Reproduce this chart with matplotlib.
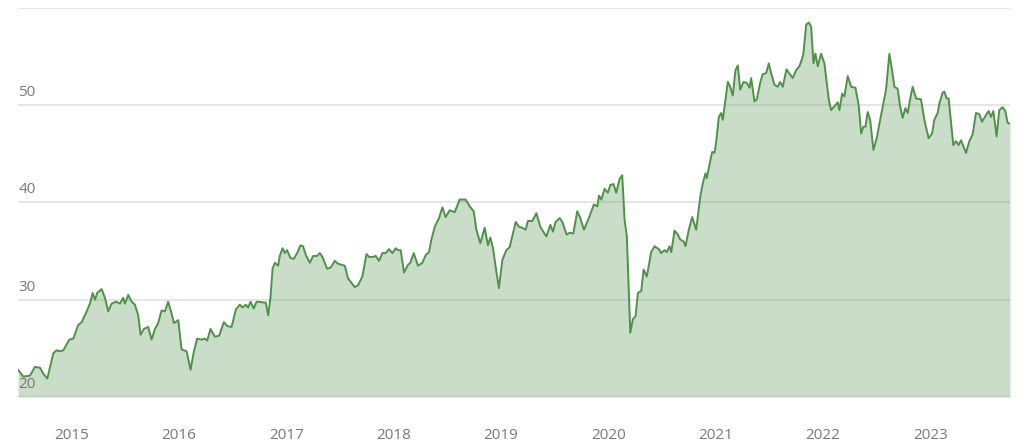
import matplotlib
matplotlib.use("Agg")
import matplotlib.pyplot as plt

# dates as decimal years, prices
years = [
    2014.500, 2014.549, 2014.612, 2014.658, 2014.705, 2014.736, 2014.773, 2014.829, 2014.860, 2014.891,
    2014.922, 2014.978, 2015.015, 2015.061, 2015.093, 2015.140, 2015.170, 2015.196, 2015.217, 2015.238,
    2015.279, 2015.310, 2015.341, 2015.372, 2015.412, 2015.450, 2015.480, 2015.496, 2015.527, 2015.559,
    2015.589, 2015.620, 2015.642, 2015.673, 2015.713, 2015.745, 2015.776, 2015.806, 2015.838, 2015.869,
    2015.899, 2015.931, 2015.952, 2015.993, 2016.024, 2016.071, 2016.108, 2016.139, 2016.169, 2016.210,
    2016.241, 2016.263, 2016.294, 2016.334, 2016.374, 2016.418, 2016.449, 2016.490, 2016.530, 2016.567,
    2016.592, 2016.623, 2016.644, 2016.667, 2016.697, 2016.723, 2016.809, 2016.831, 2016.853, 2016.872,
    2016.893, 2016.924, 2016.939, 2016.965, 2016.986, 2017.007, 2017.039, 2017.070, 2017.101, 2017.132,
    2017.156, 2017.182, 2017.219, 2017.250, 2017.287, 2017.312, 2017.337, 2017.380, 2017.412, 2017.452,
    2017.482, 2017.545, 2017.575, 2017.638, 2017.669, 2017.709, 2017.747, 2017.771, 2017.803, 2017.833,
    2017.864, 2017.896, 2017.926, 2017.957, 2017.989, 2018.020, 2018.041, 2018.066, 2018.097, 2018.134,
    2018.156, 2018.187, 2018.227, 2018.268, 2018.299, 2018.330, 2018.352, 2018.383, 2018.423, 2018.454,
    2018.485, 2018.522, 2018.569, 2018.615, 2018.671, 2018.709, 2018.746, 2018.771, 2018.808, 2018.848,
    2018.879, 2018.901, 2018.926, 2018.957, 2018.981, 2019.013, 2019.050, 2019.081, 2019.137, 2019.168,
    2019.199, 2019.230, 2019.251, 2019.292, 2019.330, 2019.367, 2019.423, 2019.460, 2019.484, 2019.509,
    2019.547, 2019.572, 2019.612, 2019.642, 2019.674, 2019.711, 2019.736, 2019.773, 2019.819, 2019.866,
    2019.898, 2019.913, 2019.935, 2019.966, 2019.996, 2020.019, 2020.049, 2020.074, 2020.105, 2020.130,
    2020.152, 2020.173, 2020.205, 2020.229, 2020.254, 2020.276, 2020.307, 2020.329, 2020.359, 2020.400,
    2020.431, 2020.471, 2020.493, 2020.524, 2020.546, 2020.571, 2020.587, 2020.617, 2020.648, 2020.670,
    2020.701, 2020.720, 2020.750, 2020.782, 2020.819, 2020.857, 2020.881, 2020.906, 2020.918, 2020.943,
    2020.968, 2020.990, 2021.006, 2021.030, 2021.052, 2021.067, 2021.092, 2021.114, 2021.136, 2021.160,
    2021.185, 2021.207, 2021.229, 2021.260, 2021.291, 2021.316, 2021.331, 2021.362, 2021.384, 2021.415,
    2021.439, 2021.471, 2021.495, 2021.518, 2021.548, 2021.579, 2021.601, 2021.626, 2021.660, 2021.685,
    2021.719, 2021.750, 2021.781, 2021.806, 2021.818, 2021.844, 2021.868, 2021.890, 2021.912, 2021.930,
    2021.952, 2021.983, 2022.014, 2022.054, 2022.076, 2022.107, 2022.138, 2022.154, 2022.179, 2022.200,
    2022.231, 2022.263, 2022.303, 2022.333, 2022.356, 2022.377, 2022.396, 2022.417, 2022.440, 2022.470,
    2022.501, 2022.526, 2022.563, 2022.588, 2022.619, 2022.644, 2022.666, 2022.696, 2022.719, 2022.743,
    2022.768, 2022.790, 2022.812, 2022.836, 2022.868, 2022.914, 2022.945, 2022.985, 2023.017, 2023.038,
    2023.069, 2023.085, 2023.116, 2023.131, 2023.153, 2023.171, 2023.194, 2023.215, 2023.240, 2023.264,
    2023.287, 2023.308, 2023.333, 2023.364, 2023.395, 2023.426, 2023.457, 2023.482, 2023.520, 2023.544,
    2023.566, 2023.588, 2023.618, 2023.643, 2023.674, 2023.699, 2023.721, 2023.743,
]
prices = [
    22.8, 22.1, 22.2, 23.1, 23.0, 22.4, 21.9, 24.5, 24.8, 24.7,
    24.8, 25.9, 26.0, 27.4, 27.7, 28.8, 29.6, 30.7, 30.0, 30.7,
    31.1, 30.2, 28.8, 29.6, 29.8, 29.6, 30.2, 29.6, 30.5, 29.8,
    29.5, 28.4, 26.4, 27.0, 27.2, 25.9, 27.0, 27.6, 28.9, 28.8,
    29.8, 28.6, 27.6, 27.9, 24.9, 24.7, 22.8, 24.7, 26.0, 25.9,
    26.0, 25.8, 27.0, 26.2, 26.3, 27.7, 27.3, 27.2, 29.0, 29.5,
    29.2, 29.5, 29.2, 29.8, 29.1, 29.8, 29.7, 28.4, 30.3, 33.2,
    33.8, 33.5, 34.5, 35.3, 34.8, 35.1, 34.3, 34.2, 34.8, 35.6,
    35.5, 34.6, 33.8, 34.5, 34.5, 34.8, 34.4, 33.2, 33.3, 34.0,
    33.7, 33.5, 32.2, 31.3, 31.5, 32.4, 34.7, 34.4, 34.4, 34.5,
    34.0, 34.8, 34.8, 35.2, 34.8, 35.3, 35.1, 35.1, 32.8, 33.6,
    33.8, 34.8, 33.5, 33.8, 34.6, 34.9, 36.2, 37.5, 38.4, 39.5,
    38.5, 39.2, 39.0, 40.3, 40.3, 39.6, 39.1, 37.2, 35.8, 37.4,
    35.6, 36.4, 35.3, 32.9, 31.2, 34.1, 35.1, 35.4, 38.0, 37.5,
    37.4, 37.2, 38.1, 38.1, 38.9, 37.5, 36.5, 37.7, 37.0, 38.0,
    38.4, 38.0, 36.7, 36.9, 36.8, 39.1, 38.5, 37.2, 38.4, 39.8,
    39.6, 40.7, 40.3, 41.4, 41.0, 41.8, 41.9, 41.0, 42.4, 42.8,
    38.2, 36.5, 26.6, 28.0, 28.3, 30.7, 30.9, 33.1, 32.4, 34.9,
    35.5, 35.2, 34.8, 35.1, 34.9, 35.5, 34.9, 37.1, 36.7, 36.2,
    36.0, 35.5, 37.2, 38.5, 37.2, 40.6, 42.0, 43.0, 42.5, 43.9,
    45.2, 45.1, 46.3, 48.8, 49.2, 48.5, 50.6, 52.4, 51.9, 51.0,
    53.6, 54.1, 51.6, 52.4, 52.3, 51.8, 52.8, 50.4, 50.6, 52.3,
    53.2, 53.3, 54.3, 53.3, 52.1, 51.9, 52.4, 51.9, 53.7, 53.3,
    52.8, 53.6, 54.0, 54.8, 55.3, 58.3, 58.5, 58.1, 54.3, 55.3,
    54.0, 55.3, 54.3, 50.6, 49.5, 49.9, 50.3, 49.5, 51.2, 50.9,
    53.0, 51.9, 51.8, 50.0, 47.1, 47.8, 47.8, 49.3, 48.5, 45.4,
    46.6, 48.1, 50.2, 51.6, 55.3, 53.6, 51.9, 51.7, 49.9, 48.7,
    49.7, 49.2, 50.6, 51.9, 50.7, 50.6, 48.5, 46.6, 47.1, 48.5,
    49.2, 50.2, 51.3, 51.4, 50.7, 50.7, 48.2, 45.9, 46.3, 45.9,
    46.4, 45.8, 45.1, 46.3, 47.0, 49.2, 49.1, 48.3, 49.0, 49.4,
    48.8, 49.4, 46.8, 49.5, 49.8, 49.4, 48.2, 48.1,
]

year_ticks = [2015, 2016, 2017, 2018, 2019, 2020, 2021, 2022, 2023]
y_ticks = [20, 30, 40, 50]
grid_levels = [20, 30, 40, 50, 60]

line_color = "#50914a"
text_color = "#787878"

plt.rcParams["font.family"] = ["Open Sans", "DejaVu Sans"]

fig = plt.figure(figsize=(10.24, 4.48), dpi=100)
ax = fig.add_axes([18 / 1024, 1 - 397 / 448, (1010 - 18) / 1024, (397 - 8) / 448])

for g in grid_levels:
    ax.axhline(g, color="#e2e2e2", lw=1.2, zorder=0)

ax.fill_between(years, prices, 20, color=line_color, alpha=0.3, lw=0, zorder=1)
ax.plot(years, prices, color=line_color, lw=1.4, solid_joinstyle="round", zorder=2)

ax.set_xlim(years[0], years[-1])
ax.set_ylim(20, 60)

ax.set_xticks(year_ticks)
ax.set_xticklabels([str(y) for y in year_ticks])
ax.tick_params(axis="x", length=0, pad=22, labelsize=11, labelcolor=text_color)
ax.set_yticks([])

for v in y_ticks:
    ax.text(years[0] + 0.003, v + 0.93, str(v), ha="left", va="baseline",
            fontsize=11, color=text_color, zorder=3)

for s in ax.spines.values():
    s.set_visible(False)

fig.savefig("out.png", dpi=100)
